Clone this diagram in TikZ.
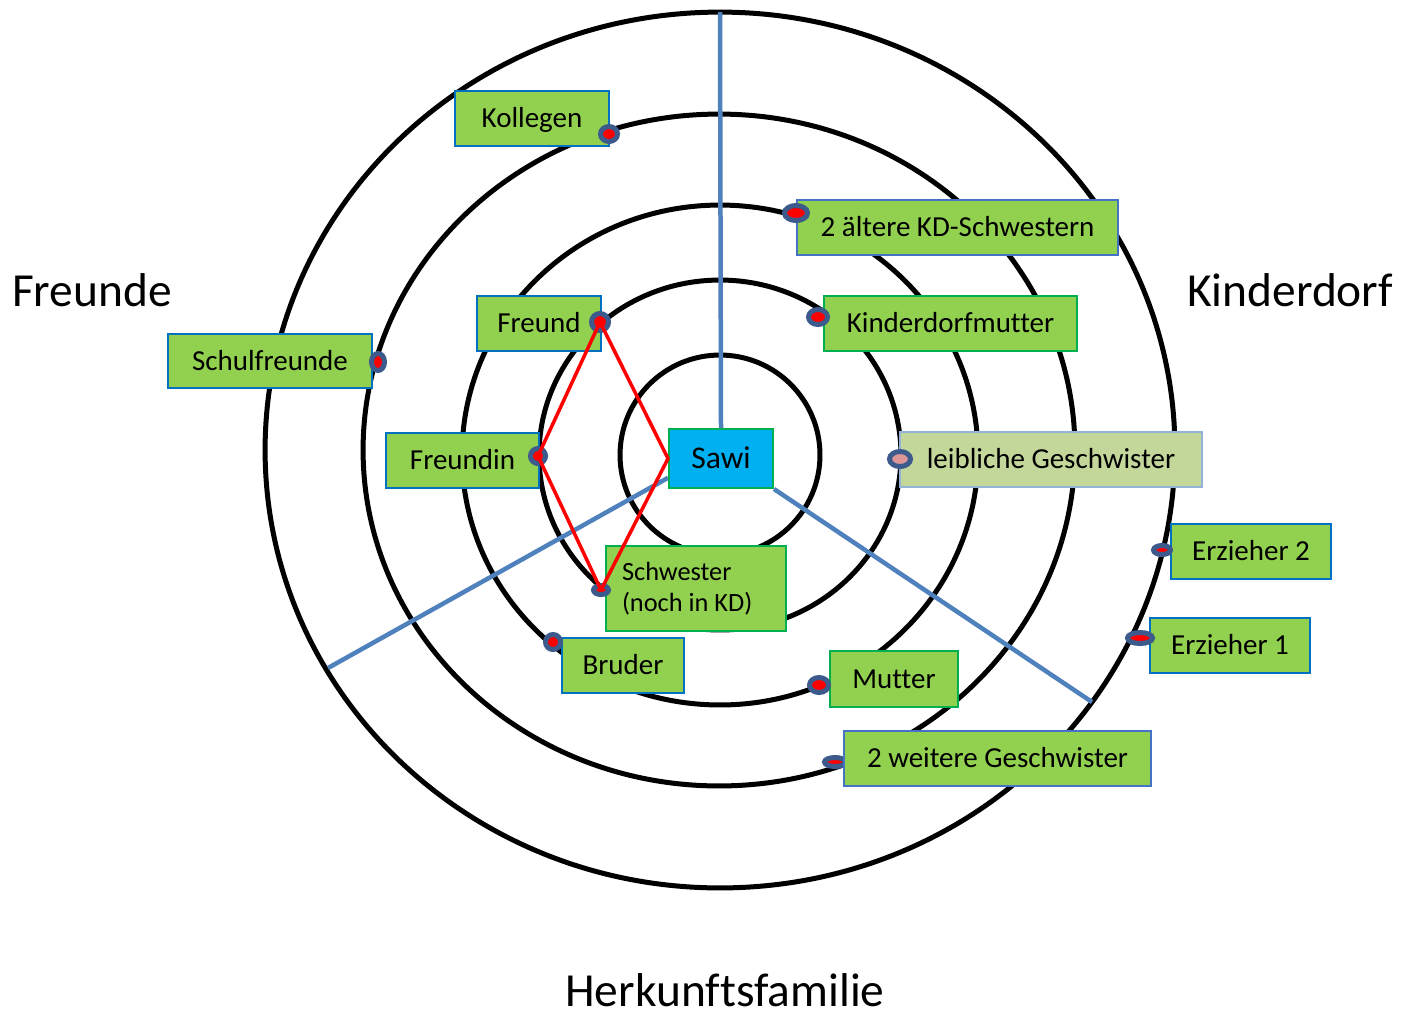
\documentclass[tikz,border=0pt]{standalone}
\usepackage{fontspec}
\setmainfont{Carlito}[Ligatures=NoCommon]
\usetikzlibrary{shapes.geometric, backgrounds}
\definecolor{cLeaf}{RGB}{146,208,80}
\definecolor{cPale}{RGB}{196,215,155}
\definecolor{cSky}{RGB}{0,176,240}
\definecolor{cBlueEdge}{RGB}{0,112,192}
\definecolor{cSlate}{RGB}{68,114,196}
\definecolor{cPaleEdge}{RGB}{149,179,215}
\definecolor{cGreenEdge}{RGB}{0,176,80}
\definecolor{cSector}{RGB}{79,129,189}
\definecolor{cKnot}{RGB}{60,90,140}
\definecolor{cPink}{RGB}{222,150,150}
\tikzset{
	ring/.style   ={draw=black, line width=0.1cm},
	sector/.style ={draw=cSector, line width=0.09cm},
	tie/.style    ={draw=red, line width=0.07cm, line join=round},
	% boxes for the persons, sizes in pixels of the sketch
	person/.style ={rectangle, fill=cLeaf, draw=cBlueEdge, line width=0.04cm, inner sep=0pt, anchor=north west,
		font=\fontsize{16.5}{20}\selectfont, text height=10.6pt, text depth=0pt},
	sz/.style 2 args={minimum width=#1*0.02cm, minimum height=#2*0.02cm},
	knot/.style 2 args={ellipse, draw=cKnot, fill=red, line width=0.1cm, inner sep=0pt,
		minimum width=#1*0.02cm-0.1cm, minimum height=#2*0.02cm-0.1cm},
	area/.style   ={font=\fontsize{27}{32}\selectfont},
}
\begin{document}
\begin{tikzpicture}[x=0.02cm, y=-0.02cm]
	\useasboundingbox (0,0) rectangle (1402,1019);
	\begin{scope}[on background layer]
		\fill[white] (0,0) rectangle (1402,1019);
		\draw[ring] (720,455) ellipse [x radius=2cm, y radius=2cm];
		\draw[ring] (720,455) ellipse [x radius=3.62cm, y radius=3.5cm];
		\draw[ring] (720,455) ellipse [x radius=5.16cm, y radius=5cm];
		\draw[ring] (719,450) ellipse [x radius=7.12cm, y radius=6.72cm];
		\draw[ring] (720,450) ellipse [x radius=9.1cm, y radius=8.76cm];
	\end{scope}

	% the three fields
	\node[area] (freunde) at (92,290) {Freunde};
	\node[area] (kinderdorf) at (1290,290) {Kinderdorf};
	\node[area] (herkunft) at (725,990) {Herkunftsfamilie};

	\node[person, sz={104}{59}, fill=cSky, draw=cGreenEdge, font=\fontsize{18}{22}\selectfont, text height=11.6pt] (sawi) at (668,428) {Sawi};

	\coordinate (topEnd) at (720,12);
	\coordinate (leftEnd) at (328,668);
	\coordinate (rightEnd) at (1092,702);
	\begin{scope}[on background layer]
		\draw[sector] (sawi.north) -- (topEnd);
		\draw[sector] (sawi.200) -- (leftEnd);
		\draw[sector] (sawi.south east) -- (rightEnd);
	\end{scope}

	\node[knot={26}{14}] (mWeitere) at (835,762) {};

	\node[person, sz={154}{55}] (kollegen) at (454,90) {Kollegen};
	\node[person, sz={321}{55}, draw=cSlate] (aeltere) at (796,199) {2 ältere KD-Schwestern};
	\node[person, sz={124}{55}] (freund) at (476,295) {Freund};
	\node[person, sz={253}{55}, draw=cGreenEdge] (kdmutter) at (823,295) {Kinderdorfmutter};
	\node[person, sz={204}{54}] (schulfr) at (167,333) {Schulfreunde};
	\node[person, sz={153}{55}] (freundin) at (385,432) {Freundin};
	\node[person, sz={302}{55}, fill=cPale, draw=cPaleEdge] (leiblich) at (899,431) {leibliche Geschwister};
	\node[person, sz={160}{55}] (erz2) at (1170,523) {Erzieher 2};
	\node[person, sz={180}{85}, draw=cGreenEdge, align=left, text height=, text depth=,
		font=\fontsize{15}{18}\selectfont] (schwester) at (605,545) {Schwester\\(noch in KD)\hspace*{10pt}};
	\node[person, sz={160}{55}] (erz1) at (1149,617) {Erzieher 1};
	\node[person, sz={122}{55}] (bruder) at (561,637) {Bruder};
	\node[person, sz={128}{56}, draw=cGreenEdge] (mutter) at (829,650) {Mutter};
	\node[person, sz={307}{55}, draw=cSlate] (weitere) at (843,730) {2 weitere Geschwister};

	% markers on the rings
	\node[knot={22}{20}] (mKollegen) at (609,134) {};
	\node[knot={28}{20}] (mAeltere) at (796,213) {};
	\node[knot={22}{22}] (mFreund) at (600,322) {};
	\node[knot={24}{20}] (mKdmutter) at (818,317) {};
	\node[knot={18}{22}] (mSchulfr) at (378,362) {};
	\node[knot={20}{20}] (mFreundin) at (538,456) {};
	\node[knot={26}{20}, fill=cPink] (mLeiblich) at (900,459) {};
	\node[knot={22}{14}] (mErz2) at (1162,550) {};
	\node[knot={30}{16}] (mErz1) at (1140,638) {};
	\node[knot={20}{14}] (mSchwester) at (601,590) {};
	\node[knot={20}{20}] (mBruder) at (553,642) {};
	\node[knot={24}{20}] (mMutter) at (819,685) {};

	\draw[tie] (mFreundin.center) -- (mFreund.center) -- (sawi.west) -- (mSchwester.center) -- cycle;
\end{tikzpicture}
\end{document}
